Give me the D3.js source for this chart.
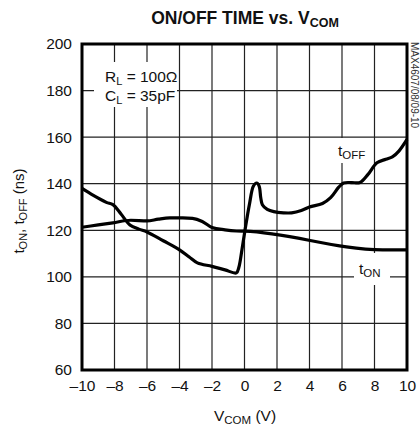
<!DOCTYPE html>
<html><head><meta charset="utf-8">
<script src="https://cdn.jsdelivr.net/npm/d3@7"></script>
<style>body{margin:0;background:#fff}svg{display:block}text{font-family:"Liberation Sans Narrow","Liberation Sans",Arial,sans-serif}</style>
</head><body><svg id="c" width="420" height="433"></svg>
<script>
const xTicks = [-10,-8,-6,-4,-2,0,2,4,6,8,10];
const yTicks = [60,80,100,120,140,160,180,200];
const tOffV = [-10,-9.3,-8.5,-8.1,-7.6,-7.05,-6.5,-6,-5,-4,-3.4,-2.9,-2,-1.2,-0.5,-0.35,-0.15,0.03,0.3,0.55,0.75,0.9,1.0,1.1,1.4,1.8,2.4,2.9,3.5,4.0,4.8,5.3,5.8,6.1,6.6,7.1,7.6,8.15,8.7,9.1,9.5,10];
const tOffT = [138,135,132,131,127,122.3,120.5,119.3,115.5,111.6,108.5,106,104.5,103,101.7,104,112,120,131,139,140.3,139,134,131,129,128,127.5,127.5,128.5,130,131.5,134,138.5,140.3,140.5,140.5,144,149,150.5,151.5,154,159];
const tOnV = [-10,-9,-8.1,-7,-6,-5.3,-4.6,-3.8,-3.2,-2.6,-2,-1.2,-0.5,0,8.5,10];
const tOnT = [121.3,122.3,123.2,124.3,124,124.8,125.3,125.3,125.1,123.8,121.2,120.2,119.7,119.6,111.6,111.6];

const svg = d3.select('#c');
const L=82,R=407,T=44,B=370;
const x = d3.scaleLinear().domain([-10,10]).range([L,R]);
const y = d3.scaleLinear().domain([60,200]).range([B,T]);

// grid
const g = svg.append('g');
g.selectAll('.vx').data(xTicks.slice(1,-1)).join('line')
  .attr('x1',d=>x(d)).attr('x2',d=>x(d)).attr('y1',T).attr('y2',B)
  .attr('stroke','#222').attr('stroke-width',1.2);
g.selectAll('.hy').data(yTicks.slice(1,-1)).join('line')
  .attr('x1',L).attr('x2',R).attr('y1',d=>y(d)).attr('y2',d=>y(d))
  .attr('stroke','#222').attr('stroke-width',1.2);

// white masks for labels
svg.append('rect').attr('x',94).attr('y',62).attr('width',83).attr('height',45).attr('fill','#fff');
svg.append('rect').attr('x',354).attr('y',253).attr('width',36).attr('height',32).attr('fill','#fff');
svg.append('rect').attr('x',334).attr('y',138).attr('width',34).attr('height',25).attr('fill','#fff');

// axes ticks labels
const xa = d3.axisBottom(x).tickValues(xTicks).tickSize(0).tickPadding(10).tickFormat(d3.format('d'));
const ya = d3.axisLeft(y).tickValues(yTicks).tickSize(0).tickPadding(10);
const gx = svg.append('g').attr('transform',`translate(0,${B})`).call(xa);
const gy = svg.append('g').attr('transform',`translate(${L},0)`).call(ya);
[gx,gy].forEach(a=>{a.select('.domain').remove();a.selectAll('text').attr('font-size',15.5).attr('fill','#111').attr('font-family','"Liberation Sans Narrow",sans-serif');});
gx.selectAll('text').text(d=>d<0?'\u2013'+(-d):d);

// lines
const line = d3.line().x(d=>x(d[0])).y(d=>y(d[1])).curve(d3.curveMonotoneX);
const lineOff = d3.line().x(d=>x(d[0])).y(d=>y(d[1])).curve(d3.curveCatmullRom.alpha(0.5));
svg.append('path').datum(tOnV.map((v,i)=>[v,tOnT[i]])).attr('d',line)
  .attr('fill','none').attr('stroke','#000').attr('stroke-width',3.2).attr('stroke-linejoin','round');
svg.append('path').datum(tOffV.map((v,i)=>[v,tOffT[i]])).attr('d',lineOff)
  .attr('fill','none').attr('stroke','#000').attr('stroke-width',3.2).attr('stroke-linejoin','round');

// frame
svg.append('rect').attr('x',L).attr('y',T).attr('width',R-L).attr('height',B-T)
  .attr('fill','none').attr('stroke','#000').attr('stroke-width',3);

// annotations
const ann = svg.append('g').attr('font-size',15.5).attr('fill','#111').attr('font-family','"Liberation Sans Narrow",sans-serif');
const t1 = ann.append('text').attr('x',105).attr('y',82);
t1.append('tspan').text('R');
t1.append('tspan').attr('font-size',11).attr('dy',3).text('L');
t1.append('tspan').attr('dy',-3).text(' = 100\u03A9');
const t2 = ann.append('text').attr('x',105).attr('y',101);
t2.append('tspan').text('C');
t2.append('tspan').attr('font-size',11).attr('dy',3).text('L');
t2.append('tspan').attr('dy',-3).text(' = 35pF');
const t3 = ann.append('text').attr('x',338).attr('y',156);
t3.append('tspan').text('t');
t3.append('tspan').attr('font-size',11.5).attr('dy',3).text('OFF');
const t4 = ann.append('text').attr('x',359).attr('y',274);
t4.append('tspan').text('t');
t4.append('tspan').attr('font-size',11.5).attr('dy',3).text('ON');

// title
const tt = svg.append('text').attr('x',245).attr('y',24).attr('text-anchor','middle')
  .attr('font-size',17.5).attr('font-weight','bold').attr('fill','#111').attr('font-family','"Liberation Sans Narrow",sans-serif');
tt.append('tspan').text('ON/OFF TIME vs. V');
tt.append('tspan').attr('font-size',12.5).attr('dy',3).text('COM');

// x label
const xl = svg.append('text').attr('x',245).attr('y',421).attr('text-anchor','middle')
  .attr('font-size',15.5).attr('fill','#111');
xl.append('tspan').text('V');
xl.append('tspan').attr('font-size',11.5).attr('dy',3).text('COM');
xl.append('tspan').attr('dy',-3).text(' (V)');

// y label
const yl = svg.append('text').attr('transform','translate(24,211) rotate(-90)').attr('text-anchor','middle')
  .attr('font-size',15).attr('fill','#111');
yl.append('tspan').text('t');
yl.append('tspan').attr('font-size',11).attr('dy',3).text('ON');
yl.append('tspan').attr('dy',-3).text(', t');
yl.append('tspan').attr('font-size',11).attr('dy',3).text('OFF');
yl.append('tspan').attr('dy',-3).text(' (ns)');

// side code
svg.append('text').attr('transform','translate(411,42) rotate(90)').attr('font-size',10)
  .attr('fill','#333').text('MAX4607/08/09-10');
</script></body></html>
